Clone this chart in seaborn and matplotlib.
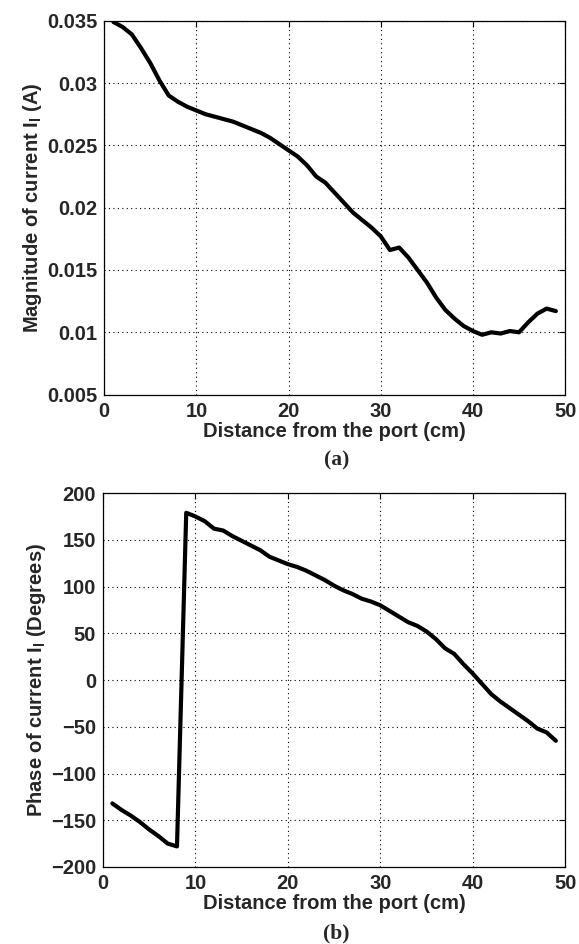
import numpy as np
import pandas as pd
import seaborn as sns
import matplotlib.pyplot as plt
from matplotlib.ticker import FuncFormatter

# distance from the port (cm)
distance = list(range(1, 50))

# magnitude of current (A), panel (a)
magnitude = [0.0349, 0.0345, 0.0339, 0.0328, 0.0316, 0.0302, 0.0290, 0.0285, 0.0281, 0.0278,
             0.0275, 0.0273, 0.0271, 0.0269, 0.0266, 0.0263, 0.0260, 0.0256, 0.0251, 0.0246,
             0.0241, 0.0234, 0.0225, 0.0220, 0.0212, 0.0204, 0.0196, 0.0190, 0.0184, 0.0177,
             0.0166, 0.0168, 0.0160, 0.0150, 0.0140, 0.0128, 0.0118, 0.0111, 0.0105, 0.0101,
             0.0098, 0.0100, 0.0099, 0.0101, 0.0100, 0.0108, 0.0115, 0.0119, 0.0117]

# phase of current (degrees), panel (b)
phase = [-132, -139, -145, -152, -160, -167, -175, -178, 179, 175,
         170, 162, 160, 154, 149, 144, 139, 132, 128, 124,
         121, 117, 112, 107, 101, 96, 92, 87, 84, 80,
         74, 68, 62, 58, 52, 44, 34, 28, 17, 7,
         -4, -15, -23, -30, -37, -44, -52, -56, -65]

df = pd.DataFrame({'distance': distance, 'magnitude': magnitude, 'phase': phase})

sns.set_style('white')
plt.rcParams['font.family'] = ['Liberation Sans', 'DejaVu Sans']
plt.rcParams['mathtext.fontset'] = 'custom'
plt.rcParams['mathtext.rm'] = 'Liberation Sans:bold'

fs = 14.5

fig = plt.figure(figsize=(5.79, 9.44), dpi=100)
ax1 = fig.add_axes([0.180, 0.582, 0.796, 0.396])
ax2 = fig.add_axes([0.178, 0.0816, 0.798, 0.396])


def style_axis(ax):
    ax.grid(True, linestyle=(0, (1, 3)), color='black', linewidth=0.8)
    ax.tick_params(direction='in', top=True, right=True, length=4, width=0.8,
                   labelsize=fs, pad=5, color='black')
    for lab in ax.get_xticklabels() + ax.get_yticklabels():
        lab.set_fontweight('bold')
    for s in ax.spines.values():
        s.set_color('black')
        s.set_linewidth(0.9)
    ax.set_xlim(0, 50)
    ax.set_xticks(range(0, 51, 10))
    ax.set_xlabel('Distance from the port (cm)', fontsize=fs, fontweight='bold', labelpad=1)


sns.lineplot(data=df, x='distance', y='magnitude', ax=ax1, color='black', linewidth=3)
ax1.set_ylim(0.005, 0.035)
ax1.set_yticks(np.arange(0.005, 0.0351, 0.005))
ax1.yaxis.set_major_formatter(FuncFormatter(lambda v, p: '%g' % round(v, 3)))
style_axis(ax1)
ax1.set_ylabel('Magnitude of current I$_\\mathregular{l}$ (A)', fontsize=fs, fontweight='bold', labelpad=2)

sns.lineplot(data=df, x='distance', y='phase', ax=ax2, color='black', linewidth=3)
ax2.set_ylim(-200, 200)
ax2.set_yticks(range(-200, 201, 50))
style_axis(ax2)
ax2.set_ylabel('Phase of current I$_\\mathregular{l}$ (Degrees)', fontsize=fs, fontweight='bold', labelpad=2)

fig.text(0.581, 1 - 460 / 944, '(a)', ha='center', va='center', fontsize=15.5,
         fontweight='bold', family='Liberation Serif')
fig.text(0.581, 1 - 933 / 944, '(b)', ha='center', va='center', fontsize=15.5,
         fontweight='bold', family='Liberation Serif')

fig.savefig('out.png', dpi=100)
